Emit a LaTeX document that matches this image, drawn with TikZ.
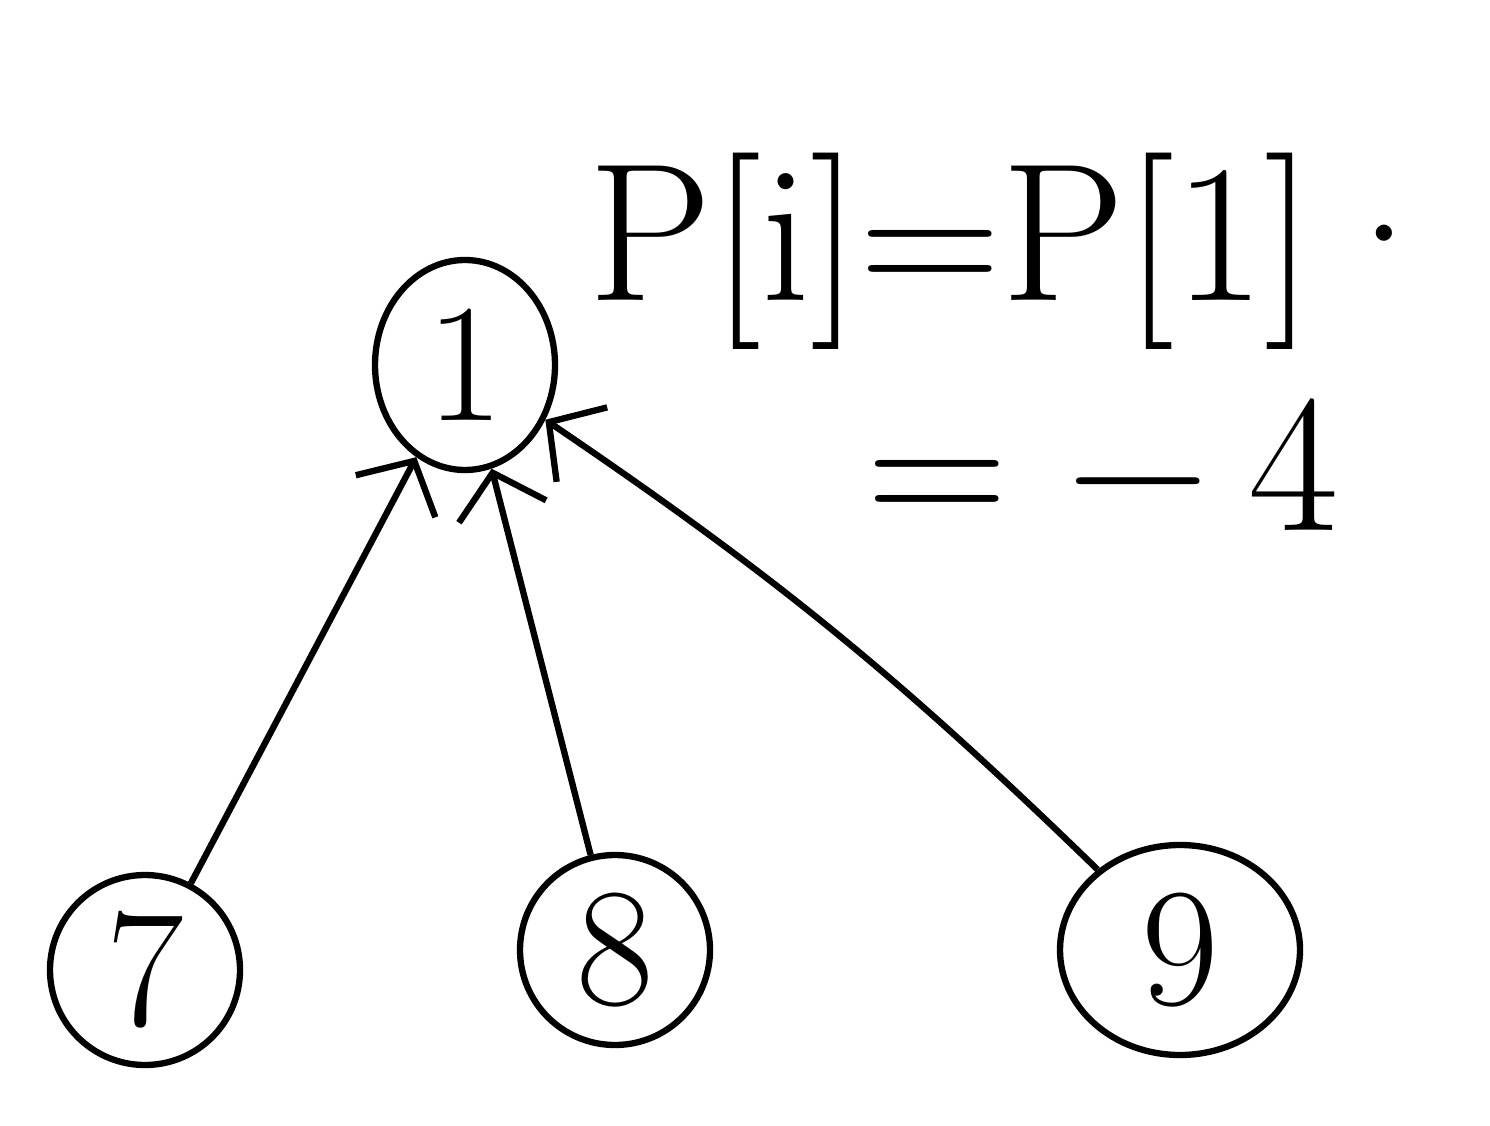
\documentclass[tikz,border=0pt]{standalone}
\usepackage{tikz}
\usetikzlibrary{positioning,arrows.meta,shapes.geometric}

\begin{document}
\begin{tikzpicture}[every node/.style={draw, circle, line width=1.8pt, minimum size=1.9cm, inner sep=2pt, font=\fontsize{48}{58}\selectfont},
  toroot/.style={line width=1.8pt, -{Straight Barb[length=4mm, width=9mm, line width=1.8pt]}}]
  \useasboundingbox (0,0) rectangle (14.9,11.25);

  \node[ellipse, minimum width=1.8cm, minimum height=2.1cm] (n1) at (4.65,7.60) {1};
  \node (n7) at (1.45,1.55) {7};
  \node (n8) at (6.15,1.75) {8};
  \node[ellipse, minimum width=2.4cm, minimum height=2.1cm] (n9) at (11.8,1.75) {9};

  \node[draw=none, anchor=base west, inner sep=0pt, font=\fontsize{56}{66}\selectfont] (eq1) at (5.75,8.25) {P[i]=P[1]\textperiodcentered};
  \node[draw=none, anchor=base west, inner sep=0pt, font=\fontsize{56}{66}\selectfont] (eq2) at (8.55,5.95) {=\hspace{0.3em}−\hspace{0.2em}4};

  \draw[toroot] (n7) -- (n1);
  \draw[toroot] (n8) -- (n1);
  \draw[toroot] (n9) to[bend right=5] (n1);
\end{tikzpicture}
\end{document}
